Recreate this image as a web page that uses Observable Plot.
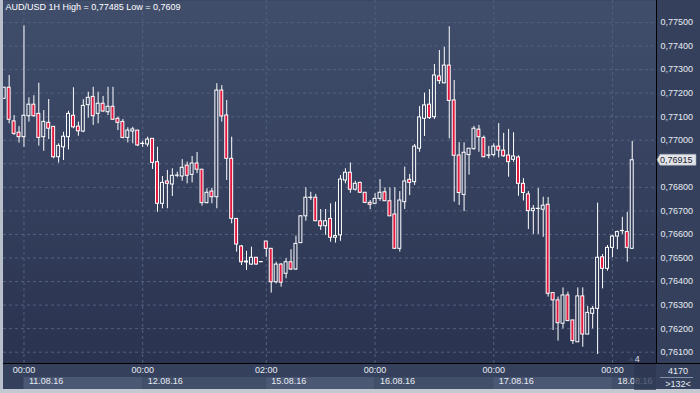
<!DOCTYPE html>
<html>
<head>
<meta charset="utf-8">
<script src="https://cdn.jsdelivr.net/npm/d3@7"></script>
<script src="https://cdn.jsdelivr.net/npm/@observablehq/plot@0.6"></script>
<style>
  html, body { margin: 0; padding: 0; background: #35415c; }
  #chart svg { display: block; }
</style>
</head>
<body>
<div id="chart"></div>
<script>
// ---- data (AUD/USD, 1H candles) ----
const open = [0.77176,0.77223,0.77080,0.77032,0.77013,0.77102,0.77151,0.77112,0.77013,0.77074,
0.77057,0.76928,0.76970,0.77013,0.77104,0.77058,0.77037,0.77149,0.77184,0.77112,
0.77155,0.77119,0.77142,0.77091,0.77078,0.77010,0.77037,0.77041,0.76984,0.76982,
0.77006,0.76907,0.76730,0.76825,0.76812,0.76849,0.76846,0.76892,0.76853,0.76901,
0.76875,0.76733,0.76782,0.76758,0.77211,0.77105,0.76921,0.76666,0.76549,0.76481,
0.76472,0.76501,0.76483,0.76570,0.76539,0.76397,0.76472,0.76433,0.76482,0.76451,
0.76563,0.76677,0.76755,0.76756,0.76656,0.76635,0.76666,0.76586,0.76596,0.76829,
0.76862,0.76790,0.76819,0.76777,0.76734,0.76730,0.76751,0.76779,0.76741,0.76685,
0.76539,0.76737,0.76832,0.76822,0.76964,0.77091,0.77151,0.77098,0.77271,0.77242,
0.77317,0.77169,0.76935,0.76768,0.76937,0.76962,0.77045,0.77010,0.76934,0.76937,
0.76973,0.76956,0.76935,0.76917,0.76927,0.76815,0.76770,0.76699,0.76708,0.76705,
0.76726,0.76351,0.76320,0.76221,0.76341,0.76235,0.76142,0.76337,0.76175,0.76263,
0.76284,0.76503,0.76454,0.76543,0.76591,0.76614,0.76610,0.76539];
const high = [0.77223,0.77275,0.77105,0.77058,0.77485,0.77180,0.77189,0.77242,0.77126,0.77173,
0.77057,0.76985,0.77034,0.77123,0.77223,0.77077,0.77172,0.77204,0.77225,0.77204,
0.77186,0.77225,0.77225,0.77098,0.77088,0.77053,0.77055,0.77041,0.76995,0.77013,
0.77006,0.76970,0.76846,0.76872,0.76879,0.76864,0.76918,0.76907,0.76931,0.76948,
0.76875,0.76794,0.76796,0.77240,0.77232,0.77169,0.77013,0.76666,0.76553,0.76528,
0.76546,0.76502,0.76485,0.76570,0.76540,0.76482,0.76477,0.76497,0.76535,0.76593,
0.76680,0.76798,0.76779,0.76770,0.76706,0.76706,0.76730,0.76737,0.76850,0.76879,
0.76904,0.76826,0.76822,0.76778,0.76744,0.76773,0.76833,0.76798,0.76798,0.76798,
0.76782,0.76886,0.76855,0.76982,0.77143,0.77200,0.77215,0.77322,0.77381,0.77395,
0.77482,0.77254,0.76990,0.76989,0.76965,0.77059,0.77063,0.77018,0.76974,0.76985,
0.77071,0.77029,0.77046,0.77032,0.76934,0.76837,0.76782,0.76723,0.76795,0.76758,
0.76757,0.76351,0.76334,0.76373,0.76355,0.76235,0.76373,0.76373,0.76294,0.76294,
0.76733,0.76515,0.76553,0.76596,0.76614,0.76673,0.76694,0.76995];
const low = [0.77176,0.77070,0.77020,0.76988,0.76970,0.77077,0.77098,0.76975,0.76953,0.77003,
0.76921,0.76903,0.76914,0.76959,0.77049,0.77017,0.77032,0.77094,0.77063,0.77070,
0.77119,0.77105,0.77084,0.77041,0.77006,0.76989,0.76985,0.76973,0.76970,0.76971,
0.76876,0.76694,0.76709,0.76709,0.76761,0.76841,0.76826,0.76815,0.76819,0.76858,
0.76720,0.76730,0.76730,0.76709,0.77077,0.76829,0.76645,0.76525,0.76468,0.76447,
0.76468,0.76470,0.76481,0.76503,0.76351,0.76390,0.76376,0.76412,0.76447,0.76447,
0.76562,0.76656,0.76744,0.76655,0.76617,0.76596,0.76567,0.76563,0.76571,0.76815,
0.76775,0.76784,0.76774,0.76731,0.76705,0.76730,0.76741,0.76740,0.76676,0.76536,
0.76525,0.76706,0.76765,0.76808,0.76949,0.77016,0.77088,0.77088,0.77237,0.77239,
0.77006,0.76737,0.76723,0.76697,0.76852,0.76958,0.76949,0.76925,0.76921,0.76930,
0.76925,0.76927,0.76843,0.76906,0.76762,0.76742,0.76621,0.76600,0.76600,0.76588,
0.76334,0.76192,0.76147,0.76199,0.76230,0.76133,0.76141,0.76121,0.76174,0.76199,
0.76090,0.76369,0.76444,0.76501,0.76535,0.76600,0.76482,0.76536];
const close = [0.77223,0.77087,0.77027,0.77013,0.77104,0.77151,0.77102,0.77010,0.77078,0.77049,
0.76928,0.76976,0.77015,0.77112,0.77055,0.77038,0.77146,0.77180,0.77102,0.77155,
0.77122,0.77142,0.77087,0.77074,0.77010,0.77041,0.77046,0.76978,0.76985,0.77003,
0.76904,0.76730,0.76819,0.76815,0.76849,0.76850,0.76883,0.76849,0.76901,0.76875,
0.76733,0.76777,0.76758,0.77211,0.77101,0.76921,0.76666,0.76557,0.76482,0.76485,
0.76501,0.76472,0.76482,0.76539,0.76397,0.76472,0.76395,0.76482,0.76451,0.76560,
0.76677,0.76756,0.76756,0.76656,0.76635,0.76656,0.76586,0.76593,0.76833,0.76862,
0.76790,0.76815,0.76777,0.76734,0.76726,0.76751,0.76777,0.76741,0.76677,0.76539,
0.76744,0.76825,0.76819,0.76973,0.77097,0.77148,0.77094,0.77275,0.77251,0.77317,
0.77167,0.76934,0.76776,0.76947,0.76964,0.77049,0.77013,0.76928,0.76936,0.76973,
0.76956,0.76932,0.76907,0.76931,0.76815,0.76776,0.76699,0.76709,0.76709,0.76722,
0.76348,0.76320,0.76223,0.76341,0.76232,0.76147,0.76337,0.76175,0.76267,0.76284,
0.76501,0.76454,0.76543,0.76591,0.76610,0.76615,0.76543,0.76915];

const yTickValues = [0.761,0.762,0.763,0.764,0.765,0.766,0.767,0.768,0.769,0.770,0.771,0.772,0.773,0.774,0.775];
const xTickIndex = [4, 28, 53, 75, 99, 123];
const xTimeLabels = ["00:00","00:00","02:00","00:00","00:00","00:00"];
const xDateLabels = ["11.08.16","12.08.16","15.08.16","16.08.16","17.08.16","18.08.16"];
const titleText = "AUD/USD 1H High = 0,77485 Low = 0,7609";
const barsCount = "4170";
const shiftText = ">132<";
const shiftMark = "4";

const candles = open.map((o, i) => ({i, open: o, high: high[i], low: low[i], close: close[i]}));
const bulls = candles.filter(d => d.close >= d.open);
const bears = candles.filter(d => d.close < d.open);
const timeMap = new Map(xTickIndex.map((t, k) => [t, xTimeLabels[k]]));
const dateMap = new Map(xTickIndex.map((t, k) => [t, xDateLabels[k]]));
const fmt = v => v.toFixed(5).replace(".", ",");

const grid = "#53617e";
const red = "#e3173e";
const txt = "#e6ebf3";
const half = 0.3;

const chart = Plot.plot({
  width: 700,
  height: 393,
  marginLeft: 3,
  marginRight: 44,
  marginTop: 0,
  marginBottom: 30,
  style: {background: "#35415c", color: txt, fontFamily: "'Liberation Sans', Arial, sans-serif", fontSize: "9px", overflow: "visible"},
  x: {type: "linear", domain: [-0.1416, 131.91]},
  y: {domain: [0.76052, 0.775934]},
  marks: [
    Plot.frame({fill: "url(#bgGrad)"}),
    Plot.ruleY(yTickValues, {stroke: grid, strokeDasharray: "3,3"}),
    Plot.ruleX(xTickIndex, {stroke: grid, strokeDasharray: "3,3"}),
    Plot.ruleX(candles, {x: "i", y1: "low", y2: "high", stroke: "white", strokeWidth: 1, ariaLabel: "wicks"}),
    Plot.rect(bulls, {x1: d => d.i - half, x2: d => d.i + half, y1: "open", y2: "close", fill: "url(#bgGrad)", stroke: "white", strokeWidth: 1, ariaLabel: "bulls"}),
    Plot.rect(bears, {x1: d => d.i - half, x2: d => d.i + half, y1: "open", y2: "close", fill: red, stroke: "white", strokeWidth: 1, ariaLabel: "bears"}),
    Plot.axisY(yTickValues, {anchor: "right", tickSize: 0, tickPadding: 4, tickFormat: fmt, label: null, fill: txt}),
    Plot.axisX(xTickIndex, {anchor: "bottom", tickSize: 0, tickPadding: 3, tickFormat: d => timeMap.get(d), label: null, fill: txt}),
    Plot.axisX(xTickIndex, {anchor: "bottom", tickSize: 0, tickPadding: 14, textAnchor: "start", dx: 5, tickFormat: d => dateMap.get(d), label: null, fill: txt}),
    Plot.text([titleText], {frameAnchor: "top-left", dx: 2, dy: 3, lineAnchor: "top", textAnchor: "start", fill: "white", fontSize: 9}),
    Plot.text([shiftMark], {x: [candles.length], frameAnchor: "bottom", dy: -2, lineAnchor: "bottom", fill: "#d8dde6", fontSize: 9})
  ]
});

const svg = d3.select(chart);
const sx = chart.scale("x"), sy = chart.scale("y");
const [plotBottom, plotTop] = sy.range;
const [plotLeft, plotRight] = sx.range;
const W = 700, H = 393;

// pixel-snap the candle marks for crisp 1px lines
svg.selectAll('g[aria-label="wicks"]').attr("transform", "translate(0.5,0.5)").selectAll("line").each(function () {
  const el = d3.select(this);
  const x = Math.round(+el.attr("x1"));
  el.attr("transform", null).attr("x1", x).attr("x2", x)
    .attr("y1", Math.round(+el.attr("y1"))).attr("y2", Math.round(+el.attr("y2")));
});
svg.selectAll('g[aria-label="bulls"], g[aria-label="bears"]').attr("transform", "translate(0.5,0.5)").selectAll("rect").each(function () {
  const el = d3.select(this);
  const cx = Math.round(+el.attr("x") + +el.attr("width") / 2);
  const y0 = Math.round(+el.attr("y")), y1 = Math.round(+el.attr("y") + +el.attr("height"));
  el.attr("transform", null).attr("x", cx - 1).attr("width", 3)
    .attr("y", y0).attr("height", Math.max(y1 - y0, 0.01));
});

// gradient definition
const defs = svg.insert("defs", ":first-child");
const lg = defs.append("linearGradient").attr("id", "bgGrad").attr("gradientUnits", "userSpaceOnUse")
  .attr("x1", 0).attr("y1", plotTop).attr("x2", 0).attr("y2", plotBottom);
lg.append("stop").attr("offset", 0).attr("stop-color", "#404e6c");
lg.append("stop").attr("offset", 1).attr("stop-color", "#2a3350");

// background decorations (behind Plot marks)
const back = svg.insert("g", "defs + *");
xTickIndex.forEach((t, k) => {
  const x1 = sx.apply(t);
  const x2 = k + 1 < xTickIndex.length ? sx.apply(xTickIndex[k + 1]) : plotRight;
  back.append("rect").attr("x", x1).attr("y", plotBottom + 14).attr("width", x2 - x1).attr("height", 12)
    .attr("fill", k % 2 === 0 ? "#4b5873" : "#424f69");
});

// foreground decorations
const front = svg.append("g").attr("text-anchor", "start");
front.append("line").attr("x1", plotRight + 0.5).attr("x2", plotRight + 0.5).attr("y1", 0).attr("y2", plotBottom)
  .attr("stroke", "black");
front.append("line").attr("x1", plotLeft).attr("x2", W).attr("y1", plotBottom + 0.5).attr("y2", plotBottom + 0.5)
  .attr("stroke", "black");
// window borders
front.append("rect").attr("x", 0).attr("y", 0).attr("width", plotLeft).attr("height", H).attr("fill", "#b9c0cc");
front.append("rect").attr("x", 0).attr("y", H - 4).attr("width", W).attr("height", 4).attr("fill", "#c4c8d0");

// overlay box at the right end of the time axis
const ox = sx.apply(candles.length - 0.5);
front.append("rect").attr("x", ox).attr("y", plotBottom + 1).attr("width", plotRight - ox).attr("height", 26)
  .attr("fill", "#2c3650").attr("opacity", 0.75);
front.append("path").attr("d", `M${ox - 6},${plotBottom - 2} l3,-4 l3,4 Z`).attr("fill", "#3b4661");

// bottom right info box
const cx = (plotRight + W) / 2;
front.append("text").attr("x", cx).attr("y", plotBottom + 8).attr("text-anchor", "middle").attr("dominant-baseline", "central")
  .attr("fill", txt).text(barsCount);
front.append("line").attr("x1", plotRight + 4).attr("x2", W - 7).attr("y1", plotBottom + 14.5).attr("y2", plotBottom + 14.5)
  .attr("stroke", "#8390a8");
front.append("text").attr("x", cx).attr("y", plotBottom + 21).attr("text-anchor", "middle").attr("dominant-baseline", "central")
  .attr("fill", txt).text(shiftText);

// last price label (covers the 0,76900 axis label, as in the terminal)
svg.selectAll("text").filter(function () { return this.textContent === fmt(0.769); }).attr("visibility", "hidden");
const lastClose = close[close.length - 1];
const ly = sy.apply(lastClose);
const bx0 = plotRight + 1, bx1 = W - 4;
front.append("path").attr("d", `M${bx0},${ly} L${bx0 + 3},${ly - 5.5} L${bx1},${ly - 5.5} L${bx1},${ly + 5.5} L${bx0 + 3},${ly + 5.5} Z`)
  .attr("fill", "#e4e5e8").attr("stroke", "#9aa3b4").attr("stroke-width", 0.6);
front.append("text").attr("x", bx0 + 3).attr("y", ly).attr("text-anchor", "start").attr("dominant-baseline", "central")
  .attr("fill", "#1d2436").text(fmt(lastClose));

document.getElementById("chart").appendChild(chart);
</script>
</body>
</html>
